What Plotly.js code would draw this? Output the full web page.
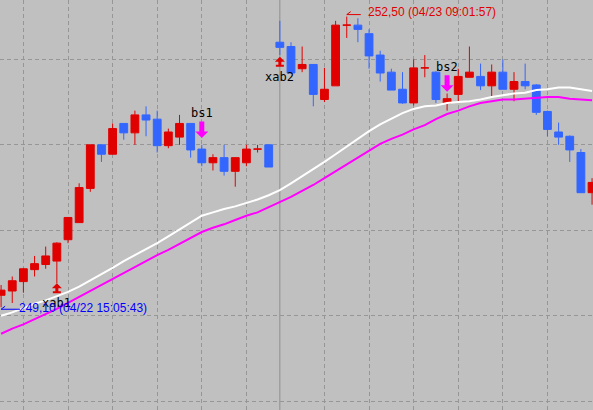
<!DOCTYPE html>
<html><head><meta charset="utf-8">
<script src="https://cdn.plot.ly/plotly-3.0.1.min.js"></script>
<style>html,body{margin:0;padding:0;background:#c0c0c0;overflow:hidden}</style>
</head><body><div id="chart" style="width:593px;height:410px"></div>
<script>
// OHLC per bar (price)
const openP  = [249.24,249.29,249.40,249.54,249.60,249.64,249.89,250.09,250.49,251.00,250.89,251.25,251.14,251.35,251.30,250.99,251.09,251.25,250.95,250.79,250.85,250.69,250.79,250.95,251.00,
                252.20,252.15,251.89,251.94,251.53,251.69,252.40,252.40,252.30,252.05,251.85,251.65,251.49,251.90,251.85,251.49,251.59,251.79,251.80,251.69,251.85,251.65,251.74,251.70,251.39,251.15,251.10,250.91,250.44];
const highP  = [249.36,249.46,249.56,249.70,249.81,249.86,250.15,250.55,251.00,251.00,251.25,251.25,251.40,251.45,251.40,251.19,251.35,251.25,251.00,250.89,251.00,250.85,251.00,251.00,251.00,
                252.45,252.20,252.15,251.94,251.90,252.45,252.50,252.48,252.35,252.10,251.89,251.85,252.00,252.05,251.86,251.60,251.89,252.15,251.95,251.94,252.00,251.85,251.95,251.71,251.40,251.26,251.11,250.95,250.61];
const lowP   = [249.10,249.15,249.27,249.46,249.55,249.38,249.85,250.09,250.45,250.80,250.89,251.06,251.00,251.10,250.91,250.96,251.00,250.85,250.75,250.70,250.64,250.51,250.75,250.91,250.74,
                252.05,251.84,251.85,251.45,251.50,251.69,252.25,252.20,251.89,251.74,251.64,251.48,251.46,251.79,251.49,251.40,251.50,251.79,251.64,251.56,251.65,251.51,251.65,251.35,251.10,251.00,250.80,250.44,250.30];
const closeP = [249.30,249.41,249.55,249.61,249.70,249.85,250.15,250.50,251.00,250.89,251.19,251.14,251.35,251.29,250.99,251.15,251.25,250.94,250.79,250.85,250.69,250.85,250.95,250.95,250.74,
                252.14,251.84,251.94,251.59,251.65,252.40,252.40,252.35,252.04,251.84,251.64,251.49,251.90,251.90,251.53,251.54,251.80,251.85,251.69,251.85,251.65,251.74,251.69,251.38,251.18,251.09,250.94,250.44,250.56];
// moving averages
const maWhite   = [249.00,249.04,249.09,249.14,249.18,249.23,249.28,249.34,249.41,249.48,249.56,249.64,249.71,249.78,249.85,249.93,250.01,250.10,250.17,250.21,250.25,250.28,250.32,250.36,250.41,
                   250.47,250.55,250.63,250.71,250.80,250.89,250.98,251.08,251.16,251.24,251.31,251.37,251.42,251.45,251.46,251.49,251.50,251.51,251.53,251.56,251.58,251.60,251.61,251.64,251.65,251.67,251.67,251.65,251.63];
const maMagenta = [248.79,248.85,248.90,248.96,249.02,249.08,249.15,249.22,249.29,249.36,249.43,249.50,249.57,249.64,249.71,249.77,249.84,249.91,249.98,250.03,250.07,250.12,250.17,250.21,250.27,
                   250.33,250.39,250.46,250.53,250.61,250.69,250.77,250.86,250.94,251.01,251.07,251.12,251.18,251.23,251.30,251.36,251.40,251.45,251.49,251.51,251.53,251.53,251.54,251.55,251.56,251.56,251.54,251.53,251.52];
// signals
const xabBars = [5, 25];
const xabPrices = [249.38, 252.03];
const xabLabels = ['xab1', 'xab2'];
const bsBars = [18, 40];
const bsPrices = [251.08, 251.62];
const bsLabels = ['bs1', 'bs2'];
// extreme labels
const lowBar = 0, lowPrice = 249.10, lowLabel = '249,10 (04/22 15:05:43)';
const highBar = 31, highPrice = 252.50, highLabel = '252,50 (04/23 09:01:57)';
const dayBreakBar = 25;
const gridBars = [2,6,10,14,18,22,29,33,37,41,45,49,53];
const gridPrices = [248,249,250,251,252];

const RED = '#e00000', BLUE = '#3366ff', MAG = '#ff00ff';
const xs = openP.map((_, i) => i);

const traces = [
  {type:'candlestick', x:xs, open:openP, high:highP, low:lowP, close:closeP,
   increasing:{line:{color:RED,width:1}, fillcolor:RED},
   decreasing:{line:{color:BLUE,width:1}, fillcolor:BLUE},
   whiskerwidth:0, hoverinfo:'skip', showlegend:false},
  {type:'scatter', mode:'lines', x:xs, y:maWhite, line:{color:'#ffffff', width:2}, hoverinfo:'skip', showlegend:false},
  {type:'scatter', mode:'lines', x:xs, y:maMagenta, line:{color:MAG, width:2}, hoverinfo:'skip', showlegend:false}
];

const shapes = [
  {type:'line', xref:'x', yref:'paper', x0:dayBreakBar, x1:dayBreakBar, y0:0, y1:1, line:{color:'#8e8e8e', width:1}, layer:'below'}
];
xabBars.forEach((b, i) => shapes.push({type:'path', xref:'x', yref:'y', xsizemode:'pixel', ysizemode:'pixel',
  xanchor:b, yanchor:xabPrices[i],
  path:'M0,0 L5,-5 L1.5,-5 L1.5,-8 L4,-8 L4,-10 L-4,-10 L-4,-8 L-1.5,-8 L-1.5,-5 L-5,-5 Z',
  fillcolor:RED, line:{width:0}}));
bsBars.forEach((b, i) => shapes.push({type:'path', xref:'x', yref:'y', xsizemode:'pixel', ysizemode:'pixel',
  xanchor:b, yanchor:bsPrices[i],
  path:'M0,0 L6.5,6.5 L2.5,6.5 L2.5,16.5 L-2.5,16.5 L-2.5,6.5 L-6.5,6.5 Z',
  fillcolor:MAG, line:{width:0}}));
shapes.push({type:'path', xref:'x', yref:'y', xsizemode:'pixel', ysizemode:'pixel', xanchor:lowBar, yanchor:lowPrice,
  path:'M0,-2 L19,-2 M0,-2 L4,1', fillcolor:'rgba(0,0,0,0)', line:{color:'#0000ff', width:1}});
shapes.push({type:'path', xref:'x', yref:'y', xsizemode:'pixel', ysizemode:'pixel', xanchor:highBar, yanchor:highPrice,
  path:'M0,2 L14,2 M0,2 L4,5', fillcolor:'rgba(0,0,0,0)', line:{color:RED, width:1}});

const lblFont = {family:'DejaVu Sans Mono, monospace', size:12, color:'#000000'};
const prFont = {family:'Liberation Sans, Arial, sans-serif', size:12};
const annotations = [];
xabBars.forEach((b, i) => annotations.push({x:b, y:xabPrices[i], xref:'x', yref:'y', text:xabLabels[i], showarrow:false, yshift:-20, font:lblFont}));
bsBars.forEach((b, i) => annotations.push({x:b, y:bsPrices[i], xref:'x', yref:'y', text:bsLabels[i], showarrow:false, yshift:25, font:lblFont}));
annotations.push({x:lowBar, y:lowPrice, xref:'x', yref:'y', text:lowLabel, showarrow:false, xanchor:'left', xshift:16, yshift:-1,
  font:Object.assign({}, prFont, {color:'#0000ff'})});
annotations.push({x:highBar, y:highPrice, xref:'x', yref:'y', text:highLabel, showarrow:false, xanchor:'left', xshift:19, yshift:5,
  font:Object.assign({}, prFont, {color:RED})});

const layout = {
  width:593, height:410, margin:{l:0,r:0,t:0,b:0,pad:0},
  paper_bgcolor:'#c0c0c0', plot_bgcolor:'#c0c0c0',
  showlegend:false, dragmode:false, boxgap:0.3, boxgroupgap:0,
  xaxis:{range:[-0.099, 53.085], tickvals:gridBars, showticklabels:false, ticks:'', showgrid:true,
         gridcolor:'#969696', gridwidth:1, griddash:'4px,3px', zeroline:false, showline:false,
         rangeslider:{visible:false}, fixedrange:true},
  yaxis:{range:[247.898, 252.694], tickvals:gridPrices, showticklabels:false, ticks:'', showgrid:true,
         gridcolor:'#969696', gridwidth:1, griddash:'4px,3px', zeroline:false, showline:false, fixedrange:true},
  shapes:shapes, annotations:annotations
};
Plotly.newPlot('chart', traces, layout, {displayModeBar:false, staticPlot:true});
</script></body></html>
